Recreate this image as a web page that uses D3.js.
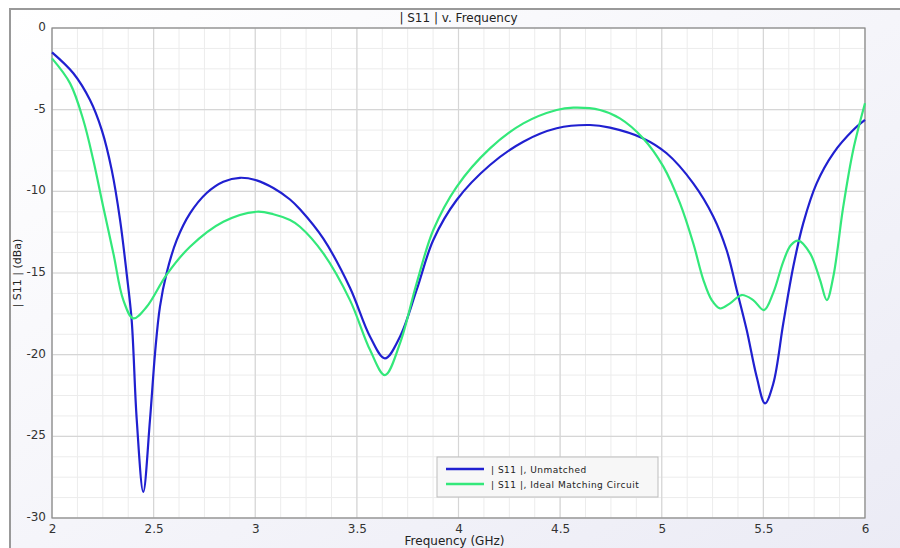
<!DOCTYPE html>
<html lang="en">
<head>
<meta charset="utf-8">
<title>| S11 | v. Frequency</title>
<script src="https://cdn.jsdelivr.net/npm/d3@7"></script>
<style>
  body{margin:0;background:#fff;font-family:"DejaVu Sans",sans-serif;}
</style>
</head>
<body>
<div id="chart"></div>
<script>
// values (GHz, dB)
var unmatchedF = [2,2.105,2.187,2.245,2.294,2.335,2.367,2.392,2.417,2.449,2.482,2.507,2.531,2.564,2.613,2.679,2.761,2.843,2.925,3.007,3.089,3.171,3.22,3.335,3.466,3.565,3.638,3.712,3.794,3.876,3.991,4.155,4.319,4.483,4.647,4.745,4.909,5.024,5.155,5.254,5.319,5.369,5.418,5.467,5.508,5.549,5.598,5.647,5.696,5.762,5.844,5.942,6]
var unmatchedDb = [-1.49,-2.77,-4.41,-6.25,-8.7,-11.76,-15.0,-17.9,-24.0,-28.4,-24.0,-19.9,-17.07,-15.0,-13.0,-11.35,-10.1,-9.41,-9.17,-9.33,-9.8,-10.5,-11.1,-12.9,-15.9,-18.9,-20.23,-18.9,-16.04,-12.98,-10.53,-8.39,-6.96,-6.14,-5.94,-6.1,-6.76,-7.67,-9.51,-11.55,-13.59,-16.04,-18.49,-21.35,-22.98,-21.76,-18.08,-14.62,-11.96,-9.51,-7.67,-6.25,-5.63]

var idealF = [2,2.089,2.154,2.203,2.252,2.302,2.351,2.40,2.466,2.564,2.679,2.843,3.007,3.089,3.171,3.22,3.335,3.466,3.565,3.638,3.712,3.794,3.876,3.991,4.155,4.319,4.483,4.565,4.696,4.794,4.909,5.008,5.09,5.155,5.205,5.246,5.287,5.336,5.393,5.45,5.503,5.549,5.598,5.635,5.672,5.73,5.779,5.812,5.844,5.893,5.942,6]
var idealDb = [-1.86,-3.39,-5.63,-8.08,-10.94,-13.8,-16.66,-17.78,-17.07,-15.1,-13.39,-11.86,-11.25,-11.4,-11.76,-12.17,-13.8,-16.66,-19.72,-21.25,-19.31,-15.63,-12.37,-9.72,-7.37,-5.84,-5.02,-4.88,-5.02,-5.53,-6.76,-8.49,-10.74,-13.18,-15.43,-16.66,-17.17,-16.86,-16.35,-16.66,-17.27,-16.2,-14.3,-13.3,-13.02,-13.8,-15.43,-16.66,-15.23,-10.94,-7.47,-4.61]

var xTicks = [2,2.5,3,3.5,4,4.5,5,5.5,6]
var yTicks = [0,-5,-10,-15,-20,-25,-30]
var seriesNames = ["| S11 |, Unmatched","| S11 |, Ideal Matching Circuit"]
var seriesColors = ["#2020d0","#33e87a"]

var W = 900, H = 548
var pL = 52, pT = 28, pR = 865, pB = 518

var svg = d3.select("#chart").append("svg")
    .attr("width",W).attr("height",H)

var defs = svg.append("defs")
var grad = defs.append("linearGradient").attr("id","bg")
    .attr("x1","0").attr("y1","0").attr("x2","1").attr("y2","1")
grad.append("stop").attr("offset","0").attr("stop-color","#ffffff")
grad.append("stop").attr("offset","1").attr("stop-color","#ebebf5")

// outer panel
svg.append("rect").attr("x",10).attr("y",9).attr("width",W).attr("height",H)
    .attr("fill","url(#bg)").attr("stroke","#999").attr("stroke-width",2)

var x = d3.scaleLinear().domain([2,6]).range([pL,pR])
var y = d3.scaleLinear().domain([-30,0]).range([pB,pT])

svg.append("rect").attr("x",pL).attr("y",pT)
    .attr("width",pR-pL).attr("height",pB-pT).attr("fill","#fff")

// minor grid
var minorX = d3.range(2,6.0001,0.125)
var minorY = d3.range(-30,0.0001,1.25)
svg.append("g").selectAll("line").data(minorX).enter().append("line")
    .attr("x1",function(d){return x(d)}).attr("x2",function(d){return x(d)})
    .attr("y1",pT).attr("y2",pB)
    .attr("stroke","#ececec").attr("stroke-width",1)
svg.append("g").selectAll("line").data(minorY).enter().append("line")
    .attr("y1",function(d){return y(d)}).attr("y2",function(d){return y(d)})
    .attr("x1",pL).attr("x2",pR)
    .attr("stroke","#ececec").attr("stroke-width",1)
// major grid
svg.append("g").selectAll("line").data(xTicks).enter().append("line")
    .attr("x1",function(d){return x(d)}).attr("x2",function(d){return x(d)})
    .attr("y1",pT).attr("y2",pB)
    .attr("stroke","#d6d6d6").attr("stroke-width",1.2)
svg.append("g").selectAll("line").data(yTicks).enter().append("line")
    .attr("y1",function(d){return y(d)}).attr("y2",function(d){return y(d)})
    .attr("x1",pL).attr("x2",pR)
    .attr("stroke","#d6d6d6").attr("stroke-width",1.2)

svg.append("rect").attr("x",pL).attr("y",pT)
    .attr("width",pR-pL).attr("height",pB-pT)
    .attr("fill","none").attr("stroke","#8a8a8a").attr("stroke-width",1.2)

// axes - plain hyphen minus like the original
var plain = function(d){ return String(d) }
var xAxis = svg.append("g").attr("transform","translate(0,"+pB+")")
    .call(d3.axisBottom(x).tickValues(xTicks).tickSize(0).tickPadding(6).tickFormat(plain))
var yAxis = svg.append("g").attr("transform","translate("+pL+",0)")
    .call(d3.axisLeft(y).tickValues(yTicks).tickSize(0).tickPadding(6).tickFormat(plain))
svg.selectAll(".domain").remove()
svg.selectAll(".tick text").attr("font-family","DejaVu Sans, sans-serif")
    .attr("font-size",12).attr("fill","#333")
yAxis.selectAll(".tick text").attr("dy","0.2em")

// lines
var line = d3.line().curve(d3.curveCatmullRom.alpha(0.5))
    .x(function(d){return x(d[0])}).y(function(d){return y(d[1])})
var series = [d3.zip(unmatchedF,unmatchedDb), d3.zip(idealF,idealDb)]
svg.append("g").selectAll("path").data(series).enter().append("path")
    .attr("d",line).attr("fill","none")
    .attr("stroke",function(d,i){return seriesColors[i]})
    .attr("stroke-width",2.2).attr("stroke-linejoin","round")

// titles
svg.append("text").attr("x",(pL+pR)/2).attr("y",22).attr("text-anchor","middle")
    .attr("font-size",12).attr("fill","#222").text("| S11 | v. Frequency")
svg.append("text").attr("x",(pL+pR)/2-4).attr("y",545).attr("text-anchor","middle")
    .attr("font-size",12).attr("fill","#222").text("Frequency (GHz)")
svg.append("text").attr("transform","translate(21,"+((pT+pB)/2)+") rotate(-90)")
    .attr("text-anchor","middle").attr("font-size",11).attr("fill","#222").text("| S11 | (dBa)")

// legend
var lg = svg.append("g").attr("transform","translate(437,457)")
lg.append("rect").attr("width",221).attr("height",40)
    .attr("fill","#f7f7f7").attr("stroke","#bdbdbd")
seriesNames.forEach(function(name,i){
    lg.append("line").attr("x1",9).attr("x2",47).attr("y1",12+i*15).attr("y2",12+i*15)
        .attr("stroke",seriesColors[i]).attr("stroke-width",2.5)
    lg.append("text").attr("x",54).attr("y",15.5+i*15).attr("font-size",9)
        .attr("letter-spacing","0.5").attr("fill","#222").text(name)
})
</script>
</body>
</html>
